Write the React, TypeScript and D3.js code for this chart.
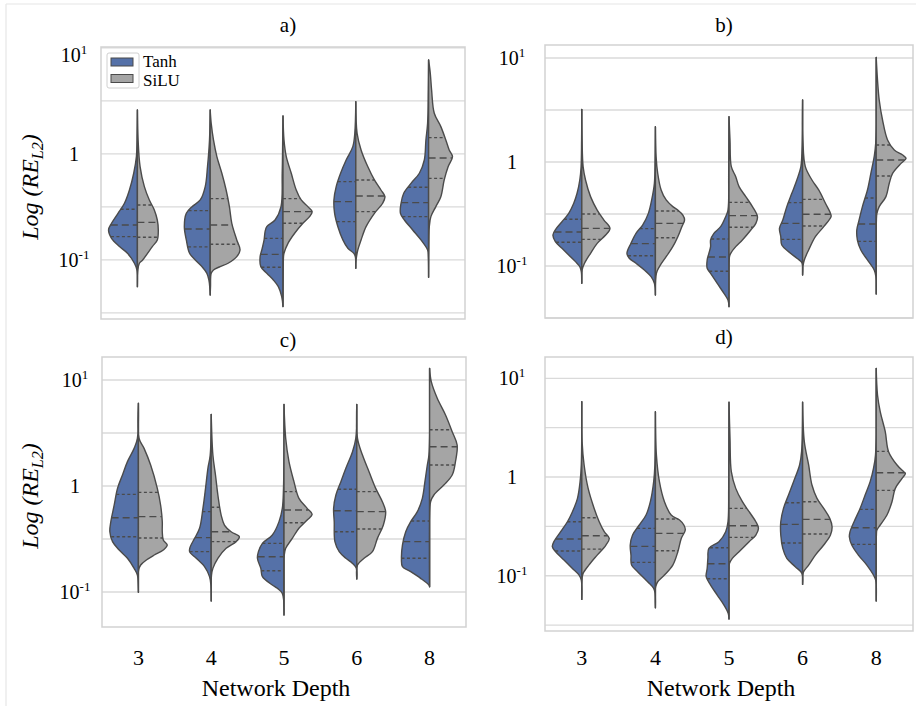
import React from 'react'
import * as d3 from 'd3'

// categories and series
const depths = ['3', '4', '5', '6', '8']
const seriesNames = ['Tanh', 'SiLU']
const panelTitles = ['a)', 'b)', 'c)', 'd)']
// half-decade gridlines (log10 of RE_L2)
const gridTicks = [-1.5, -1, -0.5, 0, 0.5, 1]
// labelled ticks: [log10 value, base, exponent]
const yTickLabels: [number, string, string][] = [[1, '10', '1'], [0, '1', ''], [-1, '10', '-1']]

// half-violin profiles: [log10 RE_L2, density] from the bottom tip to the top tip
const tanhA = [
  [[-1.252, 0], [-1.094, 0.5], [-1.031, 3], [-0.937, 10], [-0.874, 18], [-0.796, 26], [-0.717, 29], [-0.654, 26], [-0.56, 19.5], [-0.465, 13], [-0.34, 8], [-0.182, 3.7], [-0.025, 1], [0.195, 0.3], [0.415, 0]],
  [[-1.33, 0], [-1.252, 0.5], [-1.189, 1.3], [-1.126, 3.3], [-1.063, 8.3], [-1.0, 15], [-0.937, 20.7], [-0.811, 24], [-0.686, 26], [-0.56, 24], [-0.497, 18.3], [-0.434, 10], [-0.308, 5], [-0.119, 2.7], [0.132, 0.7], [0.415, 0]],
  [[-1.44, 0], [-1.346, 1.3], [-1.252, 4.7], [-1.189, 9.7], [-1.126, 16.3], [-1.063, 22.3], [-0.969, 23], [-0.906, 21.3], [-0.811, 19], [-0.733, 18], [-0.686, 16.3], [-0.623, 8], [-0.497, 2], [-0.182, 0.8], [0.132, 0.3], [0.358, 0]],
  [[-1.079, 0], [-0.969, 0.5], [-0.937, 2], [-0.89, 8], [-0.811, 13], [-0.686, 18], [-0.56, 21.3], [-0.434, 22], [-0.308, 19.7], [-0.182, 15.3], [-0.057, 9.7], [0.069, 3], [0.195, 1], [0.494, 0]],
  [[-1.164, 0], [-0.969, 0.3], [-0.906, 1], [-0.811, 7.7], [-0.717, 16], [-0.623, 24.3], [-0.56, 28.3], [-0.465, 27.7], [-0.371, 25], [-0.277, 17.7], [-0.182, 9.3], [-0.057, 4.3], [0.132, 2.7], [0.289, 1], [0.604, 0.3], [0.887, 0]],
]
const siluA = [
  [[-1.252, 0], [-1.094, 0.5], [-1.031, 2], [-1.0, 5.3], [-0.874, 15], [-0.811, 20], [-0.717, 21], [-0.623, 20], [-0.528, 17], [-0.434, 12], [-0.308, 7], [-0.119, 2.7], [0.132, 0.7], [0.415, 0]],
  [[-1.33, 0], [-1.252, 0.3], [-1.126, 1], [-1.094, 3.3], [-1.063, 10], [-1.031, 18], [-0.969, 26.7], [-0.906, 30], [-0.811, 26.7], [-0.654, 21.7], [-0.497, 19.3], [-0.34, 16], [-0.182, 11.7], [-0.025, 6.7], [0.132, 3.3], [0.289, 1], [0.415, 0]],
  [[-1.44, 0], [-1.126, 0.2], [-0.969, 0.5], [-0.937, 1], [-0.843, 5], [-0.748, 11.7], [-0.654, 20], [-0.591, 26.7], [-0.544, 29.3], [-0.497, 25], [-0.434, 18.3], [-0.34, 13.3], [-0.182, 8.3], [-0.025, 3.3], [0.132, 1], [0.358, 0]],
  [[-1.079, 0], [-1.0, 0.3], [-0.906, 2], [-0.811, 5.3], [-0.686, 10.3], [-0.56, 18.7], [-0.465, 27], [-0.403, 29.3], [-0.34, 25.3], [-0.245, 18.7], [-0.119, 12], [0.038, 5.3], [0.195, 1.3], [0.494, 0]],
  [[-1.164, 0], [-0.811, 0.3], [-0.686, 0.7], [-0.591, 2.3], [-0.497, 7.3], [-0.403, 12.3], [-0.245, 15.7], [-0.119, 19.7], [-0.025, 24], [0.038, 20.7], [0.132, 17.3], [0.258, 12.3], [0.384, 5.7], [0.604, 3], [0.761, 1.7], [0.887, 0]],
]
const tanhB = [
  [[-1.167, 0], [-1.054, 0.5], [-1.006, 2], [-0.958, 6.3], [-0.894, 13], [-0.83, 19.7], [-0.766, 26.3], [-0.702, 28.7], [-0.638, 25.3], [-0.574, 19.7], [-0.494, 13], [-0.397, 8], [-0.301, 4.7], [-0.173, 2], [-0.045, 0.7], [0.212, 0.2], [0.506, 0]],
  [[-1.279, 0], [-1.167, 1], [-1.103, 4.3], [-1.038, 11], [-0.974, 19.3], [-0.926, 26], [-0.878, 28.3], [-0.782, 24.3], [-0.686, 19.3], [-0.606, 12.7], [-0.494, 7], [-0.365, 3.7], [-0.205, 1], [-0.045, 0.4], [0.34, 0]],
  [[-1.391, 0], [-1.327, 1], [-1.263, 5], [-1.167, 11.7], [-1.071, 18.3], [-1.022, 21.7], [-0.942, 21.7], [-0.878, 20], [-0.814, 18.3], [-0.75, 18.3], [-0.686, 15], [-0.622, 8.3], [-0.526, 3.3], [-0.462, 1], [-0.109, 0.3], [0.436, 0]],
  [[-1.087, 0], [-0.968, 0.7], [-0.926, 5.7], [-0.862, 14], [-0.798, 20.7], [-0.718, 21.7], [-0.638, 23], [-0.558, 19.7], [-0.429, 15.7], [-0.301, 10.7], [-0.173, 5.7], [-0.045, 1.7], [0.083, 0.7], [0.596, 0]],
  [[-1.269, 0], [-1.103, 0.3], [-1.038, 2], [-0.942, 8.7], [-0.846, 15.3], [-0.75, 18.7], [-0.654, 19.3], [-0.558, 17], [-0.429, 13.7], [-0.269, 8.7], [-0.109, 5.3], [0.051, 2], [0.179, 0.5], [1.006, 0]],
]
const siluB = [
  [[-1.167, 0], [-1.038, 0.3], [-0.974, 2.7], [-0.878, 8.7], [-0.782, 15.3], [-0.702, 23.7], [-0.638, 28], [-0.558, 22], [-0.462, 15.3], [-0.333, 8.7], [-0.173, 3.7], [-0.045, 1.3], [0.212, 0.3], [0.506, 0]],
  [[-1.279, 0], [-1.071, 1], [-1.006, 4], [-0.91, 10.7], [-0.814, 17.3], [-0.718, 22.3], [-0.622, 26.3], [-0.558, 29], [-0.51, 27.3], [-0.462, 22.3], [-0.429, 17.3], [-0.365, 10.7], [-0.269, 5.7], [-0.109, 2.3], [0.051, 0.7], [0.34, 0]],
  [[-1.391, 0], [-0.942, 0.2], [-0.91, 0.5], [-0.878, 1.7], [-0.814, 6.7], [-0.75, 13.3], [-0.654, 21.7], [-0.59, 26.7], [-0.526, 28.3], [-0.429, 23.3], [-0.333, 16.7], [-0.237, 10], [-0.141, 6.7], [-0.045, 2.3], [0.212, 1], [0.436, 0]],
  [[-1.087, 0], [-1.006, 0.3], [-0.942, 1.7], [-0.846, 6], [-0.718, 12.7], [-0.622, 21], [-0.526, 28.3], [-0.494, 27.7], [-0.397, 22.7], [-0.269, 16], [-0.173, 9.3], [-0.045, 2.7], [0.212, 0.3], [0.596, 0]],
  [[-1.269, 0], [-0.558, 0.2], [-0.494, 0.7], [-0.429, 3], [-0.333, 9.7], [-0.205, 13], [-0.109, 16.3], [-0.013, 24.7], [0.035, 29.7], [0.067, 26.3], [0.115, 18], [0.212, 11.3], [0.404, 6.3], [0.596, 3], [0.788, 1.3], [1.006, 0]],
]
const tanhC = [
  [[-1.003, 0], [-0.84, 1], [-0.777, 4.3], [-0.682, 11], [-0.604, 19.3], [-0.525, 26], [-0.431, 28.7], [-0.336, 27.7], [-0.179, 24.3], [-0.022, 21], [0.104, 16], [0.23, 11], [0.355, 4.3], [0.45, 1], [0.78, 0]],
  [[-1.085, 0], [-0.934, 0.3], [-0.855, 1.7], [-0.761, 6.7], [-0.682, 15], [-0.619, 21.7], [-0.572, 21], [-0.494, 16.7], [-0.399, 11.7], [-0.211, 8.3], [-0.022, 5.7], [0.167, 3.3], [0.292, 1], [0.676, 0]],
  [[-1.217, 0], [-1.013, 1.7], [-0.965, 6.7], [-0.934, 11.7], [-0.855, 21.7], [-0.777, 23.3], [-0.682, 26.7], [-0.619, 25.7], [-0.541, 21.7], [-0.462, 11.7], [-0.336, 5], [-0.211, 1.7], [-0.022, 0.5], [0.77, 0]],
  [[-0.877, 0], [-0.777, 0.5], [-0.73, 4.3], [-0.682, 11], [-0.619, 17.7], [-0.525, 22], [-0.336, 22.7], [-0.211, 23.3], [-0.085, 21], [0.041, 16], [0.167, 11], [0.324, 4.3], [0.45, 1], [0.77, 0]],
  [[-0.95, 0], [-0.934, 0.7], [-0.871, 9], [-0.808, 19], [-0.761, 27.3], [-0.682, 28.3], [-0.557, 27.3], [-0.431, 24], [-0.336, 19], [-0.242, 12.3], [-0.116, 7.3], [0.041, 4.7], [0.198, 2.3], [0.292, 0.7], [1.11, 0]],
]
const siluC = [
  [[-1.003, 0], [-0.792, 0.3], [-0.745, 2.3], [-0.698, 8], [-0.651, 16], [-0.604, 25], [-0.557, 29], [-0.509, 25], [-0.431, 24], [-0.336, 24], [-0.179, 22.3], [-0.022, 19], [0.198, 12.3], [0.355, 5.7], [0.45, 0.7], [0.78, 0]],
  [[-1.085, 0], [-0.84, 0.3], [-0.777, 1.7], [-0.682, 6.7], [-0.588, 15], [-0.525, 25], [-0.478, 28.3], [-0.431, 20], [-0.368, 13.3], [-0.274, 10], [-0.085, 6.7], [0.104, 4.3], [0.292, 1.7], [0.676, 0]],
  [[-1.217, 0], [-0.651, 0.3], [-0.588, 1.7], [-0.494, 8.3], [-0.399, 15], [-0.321, 23.3], [-0.267, 28.3], [-0.211, 23.3], [-0.116, 15], [0.041, 10], [0.23, 5], [0.45, 1.7], [0.77, 0]],
  [[-0.877, 0], [-0.745, 0.7], [-0.682, 7.3], [-0.619, 15.7], [-0.494, 20.7], [-0.368, 26.7], [-0.242, 29], [-0.148, 25.7], [-0.022, 19], [0.135, 12.3], [0.292, 5.7], [0.45, 0.7], [0.77, 0]],
  [[-0.95, 0], [-0.211, 0.3], [-0.148, 1], [-0.085, 4.3], [0.009, 14.3], [0.104, 22.7], [0.23, 26], [0.387, 27.7], [0.513, 22.7], [0.67, 16], [0.827, 7.7], [0.984, 1.7], [1.11, 0]],
]
const tanhD = [
  [[-1.24, 0], [-1.044, 0.5], [-0.993, 2.7], [-0.926, 9.3], [-0.841, 17.7], [-0.757, 26], [-0.706, 29.3], [-0.655, 27.7], [-0.554, 21], [-0.453, 14.3], [-0.351, 9.3], [-0.216, 4.3], [-0.047, 1.7], [0.122, 0.5], [0.764, 0]],
  [[-1.324, 0], [-1.179, 0.3], [-1.128, 1.7], [-1.061, 7.7], [-0.959, 17.7], [-0.892, 23.7], [-0.791, 24.3], [-0.689, 25], [-0.588, 22.7], [-0.486, 16], [-0.385, 9.3], [-0.25, 5], [-0.047, 1.7], [0.122, 0.5], [0.662, 0]],
  [[-1.439, 0], [-1.382, 0.7], [-1.297, 5], [-1.196, 11.7], [-1.095, 18.3], [-1.01, 22.7], [-0.926, 21.7], [-0.824, 21], [-0.723, 20], [-0.655, 10], [-0.554, 3.3], [-0.453, 1], [-0.115, 0.3], [0.757, 0]],
  [[-1.088, 0], [-0.976, 0.7], [-0.909, 7.3], [-0.824, 15.7], [-0.723, 19.7], [-0.588, 21.7], [-0.453, 21.7], [-0.318, 19], [-0.182, 14], [-0.047, 9], [0.122, 3], [0.257, 1], [0.757, 0]],
  [[-1.257, 0], [-1.044, 0.5], [-0.993, 2.7], [-0.892, 9.3], [-0.791, 17.7], [-0.689, 24.3], [-0.605, 26.7], [-0.554, 26], [-0.453, 22], [-0.318, 16], [-0.182, 11], [-0.047, 6], [0.088, 2.7], [0.223, 0.7], [1.101, 0]],
]
const siluD = [
  [[-1.24, 0], [-1.027, 0.3], [-0.976, 1.3], [-0.892, 7], [-0.791, 15.3], [-0.689, 24], [-0.622, 27.3], [-0.554, 22.3], [-0.453, 17.3], [-0.318, 12.3], [-0.115, 6.3], [0.122, 2.3], [0.358, 0.3], [0.764, 0]],
  [[-1.324, 0], [-1.111, 0.3], [-1.061, 2.3], [-0.993, 9], [-0.892, 17.3], [-0.757, 22.3], [-0.622, 25.7], [-0.537, 29.7], [-0.486, 28.3], [-0.436, 24], [-0.385, 15.7], [-0.25, 9], [-0.047, 4], [0.223, 1], [0.662, 0]],
  [[-1.439, 0], [-0.926, 0.2], [-0.875, 0.5], [-0.824, 3.3], [-0.757, 10], [-0.655, 20], [-0.588, 26.7], [-0.52, 29.3], [-0.453, 26.7], [-0.351, 20], [-0.25, 13.3], [-0.115, 6.7], [0.054, 2.3], [0.392, 1], [0.757, 0]],
  [[-1.088, 0], [-0.993, 0.3], [-0.959, 1], [-0.892, 6], [-0.791, 12.7], [-0.689, 21], [-0.588, 27.7], [-0.503, 29.3], [-0.419, 27], [-0.318, 21], [-0.216, 14.3], [-0.081, 9.3], [0.122, 6], [0.358, 1.7], [0.757, 0]],
  [[-1.257, 0], [-0.588, 0.2], [-0.537, 0.7], [-0.486, 4], [-0.385, 10.7], [-0.25, 15.7], [-0.115, 19], [-0.014, 25.7], [0.037, 29], [0.054, 27.3], [0.122, 20.7], [0.257, 12.3], [0.459, 9], [0.662, 4], [0.831, 1.3], [1.101, 0]],
]

// quartiles [q1, median, q3] in log10 RE_L2
const tanhQA = [[-0.78, -0.67, -0.522], [-0.877, -0.708, -0.535], [-1.069, -0.947, -0.796], [-0.638, -0.45, -0.261], [-0.591, -0.459, -0.314]]
const siluQA = [[-0.786, -0.645, -0.481], [-0.852, -0.67, -0.421], [-0.654, -0.544, -0.421], [-0.544, -0.396, -0.245], [-0.23, -0.038, 0.154]]
const tanhQB = [[-0.772, -0.673, -0.551], [-0.901, -0.785, -0.641], [-1.051, -0.913, -0.74], [-0.744, -0.59, -0.391], [-0.763, -0.596, -0.346]]
const siluQB = [[-0.744, -0.638, -0.5], [-0.728, -0.59, -0.471], [-0.628, -0.516, -0.388], [-0.615, -0.503, -0.359], [-0.135, 0.019, 0.163]]
const tanhQC = [[-0.478, -0.299, -0.079], [-0.619, -0.487, -0.242], [-0.799, -0.667, -0.541], [-0.431, -0.233, -0.031], [-0.682, -0.525, -0.33]]
const siluQC = [[-0.491, -0.289, -0.06], [-0.525, -0.431, -0.201], [-0.346, -0.226, -0.053], [-0.406, -0.242, -0.053], [0.198, 0.371, 0.531]]
const tanhQD = [[-0.75, -0.628, -0.453], [-0.865, -0.703, -0.52], [-1.03, -0.878, -0.716], [-0.669, -0.48, -0.26], [-0.682, -0.514, -0.328]]
const siluQD = [[-0.73, -0.595, -0.412], [-0.747, -0.571, -0.426], [-0.611, -0.493, -0.318], [-0.578, -0.429, -0.25], [-0.135, 0.044, 0.26]]

const tanhAll = [tanhA, tanhB, tanhC, tanhD]
const siluAll = [siluA, siluB, siluC, siluD]
const tanhQAll = [tanhQA, tanhQB, tanhQC, tanhQD]
const siluQAll = [siluQA, siluQB, siluQC, siluQD]

// panel layout (frame and axis limits in log10)
const layout = [
  { x0: 101, x1: 465, y0: 47, y1: 319, lo: -1.557, hi: 1.009, tx: 288, ty: 32, labX: 74, yLabel: true, xAxis: false },
  { x0: 545, x1: 913, y0: 45, y1: 318, lo: -1.5, hi: 1.125, tx: 724, ty: 32, labX: 512, yLabel: false, xAxis: false },
  { x0: 102, x1: 466, y0: 357, y1: 627, lo: -1.33, hi: 1.217, tx: 288, ty: 347, labX: 75, yLabel: true, xAxis: true },
  { x0: 545, x1: 913, y0: 357, y1: 631, lo: -1.56, hi: 1.216, tx: 724, ty: 344, labX: 512, yLabel: false, xAxis: true },
]

const colors = ['#5571a8', '#a5a5a5']
const edge = '#4b4b4b'
const font = '"Liberation Serif", "Times New Roman", serif'

function densityAt(profile: number[][], v: number) {
  for (let i = 1; i < profile.length; i++) {
    const [a, da] = profile[i - 1]
    const [b, db] = profile[i]
    if (v >= a && v <= b) return da + ((v - a) / (b - a)) * (db - da)
  }
  return 0
}

function Panel({ idx }: { idx: number }) {
  const p = layout[idx]
  const x = d3.scaleBand().domain(depths).range([p.x0, p.x1])
  const y = d3.scaleLog().domain([10 ** p.lo, 10 ** p.hi]).range([p.y1, p.y0])
  const w = d3.scaleLinear().domain([0, 30]).range([0, x.step() * 0.41])
  const line = d3.line().curve(d3.curveCatmullRom.alpha(0.5))

  const halves = [tanhAll[idx], siluAll[idx]]
  const quarts = [tanhQAll[idx], siluQAll[idx]]

  return (
    <g>
      {gridTicks.filter(t => t >= p.lo && t <= p.hi).map(t => (
        <line key={t} x1={p.x0} x2={p.x1} y1={y(10 ** t)} y2={y(10 ** t)} stroke="#dadada" strokeWidth={1.3} />
      ))}
      <rect x={p.x0} y={p.y0} width={p.x1 - p.x0} height={p.y1 - p.y0} fill="none" stroke="#d2d2d2" strokeWidth={1.5} />
      {depths.map((dep, i) => {
        const cx = (x(dep) as number) + x.bandwidth() / 2
        return (
          <g key={dep}>
            {halves.map((set, s) => {
              const prof = set[i]
              const side = s === 0 ? -1 : 1
              const pts = prof.map(([v, d]) => [cx + side * w(d), y(10 ** v)] as [number, number])
              const path = line(pts) + `L${cx},${y(10 ** prof[0][0])}Z`
              return <path key={s} d={path} fill={colors[s]} stroke={edge} strokeWidth={1.4} strokeLinejoin="round" />
            })}
            {quarts.map((qs, s) => {
              const side = s === 0 ? -1 : 1
              return qs[i].map((q, k) => {
                const half = w(densityAt(halves[s][i], q))
                const xa = s === 0 ? cx - half : cx
                const xb = s === 0 ? cx : cx + half
                return (
                  <line key={`${s}-${k}`} x1={xa} x2={xb} y1={y(10 ** q)} y2={y(10 ** q)}
                    stroke={edge} strokeWidth={1.4} strokeDasharray={k === 1 ? '7,4' : '3,2.5'} />
                )
              })
            })}
          </g>
        )
      })}
      <text x={p.tx} y={p.ty} textAnchor="middle" fontSize={21} fontFamily={font}>{panelTitles[idx]}</text>
      {yTickLabels.map(([t, base, sup]) => {
        const ty = Math.max(y(10 ** t), p.y0 + 8)
        return (
          <text key={t} x={p.labX} y={ty + 7} textAnchor="middle" fontSize={20} fontFamily={font}>
            {base}
            {sup && <tspan dy={-8} fontSize={13}>{sup}</tspan>}
          </text>
        )
      })}
      {p.yLabel && (
        <text transform={`translate(38,${(p.y0 + p.y1) / 2 + 4}) rotate(-90)`} textAnchor="middle" fontSize={24}
          fontStyle="italic" fontFamily={font}>
          Log (RE<tspan dy={5} fontSize={16}>L2</tspan><tspan dy={-5}>)</tspan>
        </text>
      )}
      {p.xAxis && depths.map(dep => (
        <text key={dep} x={(x(dep) as number) + x.bandwidth() / 2} y={665} textAnchor="middle" fontSize={22} fontFamily={font}>{dep}</text>
      ))}
      {p.xAxis && (
        <text x={(p.x0 + p.x1) / 2 - 8} y={696} textAnchor="middle" fontSize={24} fontFamily={font}>Network Depth</text>
      )}
      {idx === 0 && (
        <g>
          <rect x={107} y={53} width={32} height={35} fill="#fff" stroke="#d0d0d0" strokeWidth={1} rx={2} />
          {seriesNames.map((n, s) => (
            <g key={n}>
              <rect x={111} y={58 + s * 16.5} width={22} height={8} fill={colors[s]} stroke={edge} strokeWidth={1} />
              <text x={143} y={67 + s * 19} fontSize={17} fontFamily={font}>{n}</text>
            </g>
          ))}
        </g>
      )}
    </g>
  )
}

export default function App() {
  return (
    <svg width={916} height={706} style={{ position: 'absolute', left: 0, top: 0, background: '#fff' }}>
      <line x1={6} x2={916} y1={4} y2={4} stroke="#e6e6e6" strokeWidth={1.2} />
      <line x1={6} x2={6} y1={4} y2={706} stroke="#e6e6e6" strokeWidth={1.2} />
      {layout.map((_, i) => <Panel key={i} idx={i} />)}
    </svg>
  )
}
